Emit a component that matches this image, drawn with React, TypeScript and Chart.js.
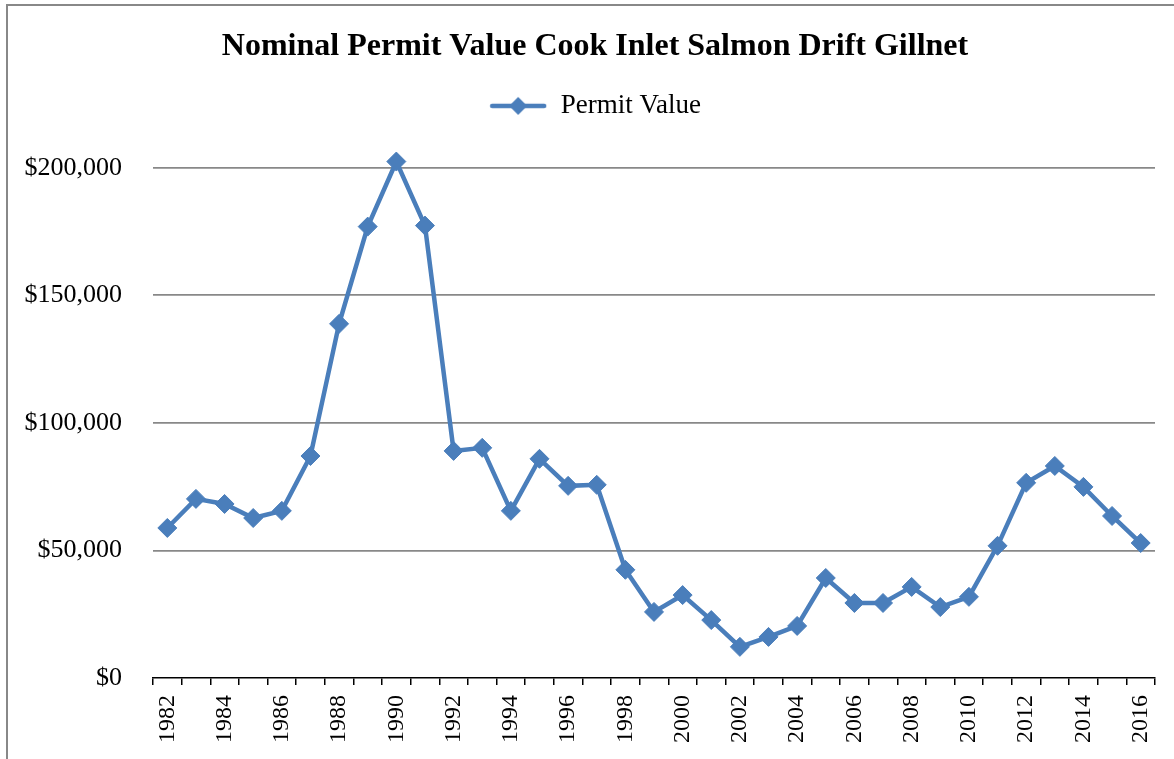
import React, { useEffect, useRef } from "react";
import { Chart, registerables } from "chart.js";

Chart.register(...registerables);

const chartTitle = "Nominal Permit Value Cook Inlet Salmon Drift Gillnet";
const seriesLabel = "Permit Value";

const years: string[] = [
  "1982", "1983", "1984", "1985", "1986", "1987", "1988", "1989", "1990", "1991",
  "1992", "1993", "1994", "1995", "1996", "1997", "1998", "1999", "2000", "2001",
  "2002", "2003", "2004", "2005", "2006", "2007", "2008", "2009", "2010", "2011",
  "2012", "2013", "2014", "2015", "2016",
];

const permitValues: number[] = [
  58800, 70200, 68200, 62700, 65500, 87000, 138800, 176900, 202400, 177300,
  89000, 90200, 65500, 85900, 75300, 75700, 42400, 25900, 32500, 22700,
  12200, 16100, 20400, 39200, 29400, 29400, 35700, 27800, 31800, 51800,
  76500, 83100, 74900, 63500, 52900,
];

const yTickValues: number[] = [0, 50000, 100000, 150000, 200000];

const SERIF = '"Liberation Serif", "Times New Roman", serif';
const BLUE = "#4A7EBB";

function makeLegendIcon(): HTMLCanvasElement {
  const c = document.createElement("canvas");
  c.width = 58;
  c.height = 22;
  const ctx = c.getContext("2d")!;
  ctx.strokeStyle = BLUE;
  ctx.lineWidth = 4.5;
  ctx.lineCap = "round";
  ctx.beginPath();
  ctx.moveTo(3, 11);
  ctx.lineTo(55, 11);
  ctx.stroke();
  ctx.fillStyle = BLUE;
  ctx.beginPath();
  ctx.moveTo(29, 2);
  ctx.lineTo(38, 11);
  ctx.lineTo(29, 20);
  ctx.lineTo(20, 11);
  ctx.closePath();
  ctx.fill();
  return c;
}

const widenYLabelArea = {
  id: "widenYLabelArea",
  afterLayout(chart: any) {
    if (chart.scales && chart.scales.y) chart.scales.y.left = 0;
  },
};

export default function App() {
  const canvasRef = useRef<HTMLCanvasElement | null>(null);

  useEffect(() => {
    document.body.style.margin = "0";
    const canvas = canvasRef.current;
    if (!canvas) return;
    const icon = makeLegendIcon();

    const chart = new Chart(canvas, {
      type: "line",
      data: {
        labels: years,
        datasets: [
          {
            label: seriesLabel,
            data: permitValues,
            borderColor: BLUE,
            backgroundColor: BLUE,
            borderWidth: 4.5,
            pointStyle: "rectRot",
            pointRadius: 9.5,
            pointBackgroundColor: BLUE,
            pointBorderColor: BLUE,
            pointBorderWidth: 1,
            tension: 0,
            fill: false,
          },
        ],
      },
      plugins: [widenYLabelArea],
      options: {
        animation: false,
        responsive: false,
        layout: { padding: { left: 35, right: 19, top: 0, bottom: 0 } },
        plugins: {
          tooltip: { enabled: false },
          title: {
            display: true,
            text: chartTitle,
            color: "#000",
            font: { family: SERIF, size: 32, weight: "bold", lineHeight: 1.2 },
            padding: { top: 28, bottom: 16 },
          },
          legend: {
            display: true,
            labels: {
              color: "#000",
              font: { family: SERIF, size: 27 },
              padding: 10,
              usePointStyle: true,
              pointStyleWidth: 58,
              generateLabels: () => [
                {
                  text: seriesLabel,
                  fillStyle: BLUE,
                  strokeStyle: BLUE,
                  lineWidth: 0,
                  pointStyle: icon as any,
                  hidden: false,
                  datasetIndex: 0,
                } as any,
              ],
            },
          },
        },
        scales: {
          x: {
            type: "category",
            offset: true,
            afterFit: (axis: any) => {
              axis.height = 81;
              axis.paddingLeft = 0;
              axis.paddingRight = 0;
            },
            grid: {
              display: true,
              offset: true,
              drawOnChartArea: false,
              drawTicks: true,
              tickLength: 7,
              color: "#000",
              lineWidth: 1.5,
            },
            border: { display: true, color: "#000", width: 1.5 },
            ticks: {
              autoSkip: false,
              minRotation: 90,
              maxRotation: 90,
              padding: 10,
              color: "#000",
              font: { family: SERIF, size: 24 },
              callback: (_v: any, i: number) => (i % 2 === 0 ? years[i] : ""),
            },
          },
          y: {
            min: 0,
            max: 215000,
            afterBuildTicks: (axis: any) => {
              axis.ticks = yTickValues.map((v) => ({ value: v }));
            },
            afterFit: (axis: any) => {
              axis.width = 118;
            },
            grid: {
              drawTicks: false,
              color: (ctx: any) => (ctx.tick && ctx.tick.value === 0 ? "rgba(0,0,0,0)" : "#888888"),
              lineWidth: 1.8,
            },
            border: { display: false },
            ticks: {
              padding: 31,
              color: "#000",
              font: { family: SERIF, size: 26 },
              callback: (v: any) => "$" + Number(v).toLocaleString("en-US"),
            },
          },
        },
      },
    });
    return () => chart.destroy();
  }, []);

  return (
    <div style={{ position: "relative", width: 1174, height: 759, background: "#fff", overflow: "hidden" }}>
      <canvas ref={canvasRef} width={1174} height={759} style={{ display: "block" }} />
      <div style={{ position: "absolute", left: 6, top: 4, width: 2, height: 755, background: "#888" }} />
      <div style={{ position: "absolute", left: 6, top: 4, width: 1168, height: 2, background: "#888" }} />
    </div>
  );
}
